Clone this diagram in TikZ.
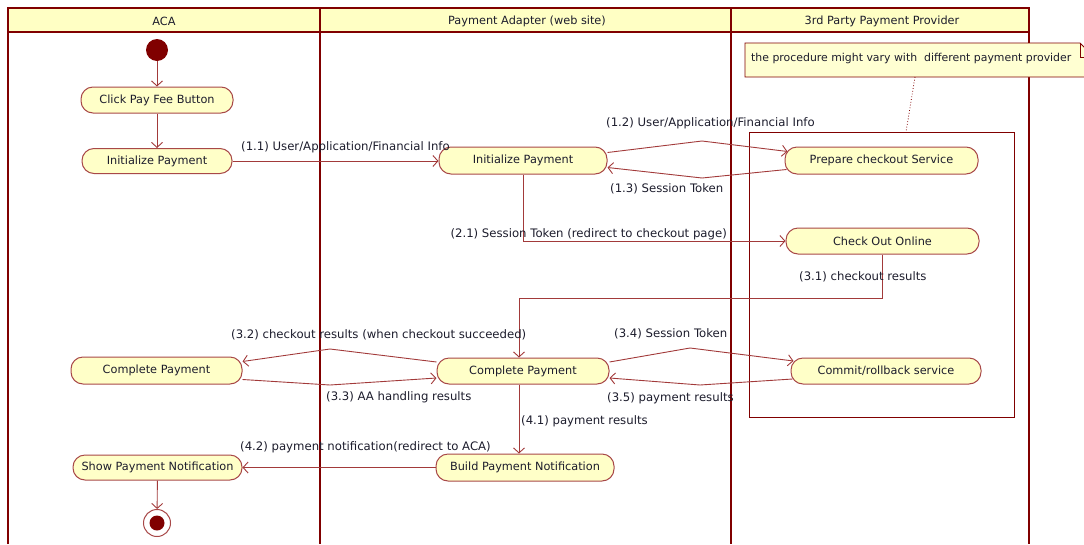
\documentclass[tikz,border=0pt]{standalone}
\usepackage{fontspec}
\setmainfont{DejaVu Sans}
\usetikzlibrary{arrows.meta}
\definecolor{lanec}{HTML}{800000}
\definecolor{hdrfill}{HTML}{FFFFC4}
\definecolor{actfill}{HTML}{FFFFC8}
\definecolor{actdraw}{HTML}{A84848}
\definecolor{edgec}{HTML}{A23A3A}
\definecolor{txt}{HTML}{1C1C2C}
\definecolor{notefill}{HTML}{FFFFD2}
\begin{document}
\begin{tikzpicture}[x=1pt,y=-1pt,
  font=\fontsize{11.3}{13}\selectfont,
  act/.style={draw=actdraw, fill=actfill, rounded corners=12pt, minimum height=26pt, inner sep=0pt, text=txt, line width=1pt},
  flow/.style={draw=edgec, line width=0.9pt, -{Straight Barb[length=5pt,width=11pt]}},
  lbl/.style={text=txt, inner sep=0pt, font=\fontsize{11.7}{13}\selectfont},
  lanel/.style={draw=lanec, line width=2.6pt},
  hdr/.style={text=txt, inner sep=0pt}]
\useasboundingbox (0,0) rectangle (1084,544);
% swimlanes
\fill[hdrfill] (8,8) rectangle (1029,32);
\draw[lanel] (8,32) -- (1029,32);
\draw[lanel] (8,544) -- (8,8) -- (1029,8) -- (1029,544);
\draw[lanel] (320,8) -- (320,544);
\draw[lanel] (731,8) -- (731,544);
\node[hdr] (h1) at (164,21) {ACA};
\node[hdr] (h2) at (527,21) {Payment Adapter (web site)};
\node[hdr] (h3) at (882,21) {3rd Party Payment Provider};
% partition and note
\draw[lanec, line width=0.9pt] (749,132) rectangle (1014,417);
\filldraw[fill=notefill, draw=lanec, line width=0.9pt] (745,43) -- (1080,43) -- (1094,57) -- (1094,77) -- (745,77) -- cycle;
\draw[lanec, line width=0.8pt] (1080,43) -- (1080,57) -- (1094,57);
\node[lbl, anchor=west, font=\fontsize{10.9}{13}\selectfont] (note) at (751,58) {the procedure might vary with\ \ different payment provider};
\coordinate (na) at (915,77);
\coordinate (pa) at (906,132);
\draw[lanec, dotted, line width=0.8pt] (na) -- (pa);
% nodes
\node[circle, fill=lanec, minimum size=22pt, inner sep=0pt] (start) at (157,50) {};
\node[act, minimum width=152pt] (click) at (157,100) {Click Pay Fee Button};
\node[act, minimum width=150pt, minimum height=25pt] (initA) at (157,161) {Initialize Payment};
\node[act, minimum width=168pt, minimum height=27pt] (initP) at (523,160.5) {Initialize Payment};
\node[act, minimum width=193pt, minimum height=27pt] (prep) at (881.5,160.5) {Prepare checkout Service};
\node[act, minimum width=193pt] (chk) at (882.5,241) {Check Out Online};
\node[act, minimum width=190pt] (commit) at (886,371) {Commit/rollback service};
\node[act, minimum width=172pt] (compP) at (523,371) {Complete Payment};
\node[act, minimum width=171pt, minimum height=27pt] (compA) at (156.5,370.5) {Complete Payment};
\node[act, minimum width=169pt, minimum height=25pt] (show) at (157.5,467.5) {Show Payment Notification};
\node[act, minimum width=178pt, minimum height=27pt] (build) at (525,467.5) {Build Payment Notification};
\node[circle, draw=actdraw, fill=white, line width=1pt, minimum size=27pt, inner sep=0pt] (end) at (157,523) {};
\node[circle, fill=lanec, minimum size=15pt, inner sep=0pt] (endin) at (157,523) {};
% bend points
\coordinate (b12) at (702,141);
\coordinate (b13) at (702,178);
\coordinate (c31) at (519,298);
\coordinate (b32) at (330,349);
\coordinate (b33) at (330,385);
\coordinate (b34) at (690,348);
\coordinate (b35) at (700,385);
% connectors
\draw[flow] (start) -- (click);
\draw[flow] (click) -- (initA);
\draw[flow] (initA.east) -- (initP.west |- initA.east);
\draw[flow] ([yshift=8pt]initP.east) -- (b12) -- ([shift={(3pt,9pt)}]prep.west);
\draw[flow] ([shift={(2pt,-9pt)}]prep.west) -- (b13) -- ([yshift=-7pt]initP.east);
\draw[flow] (initP.south) |- (chk.west);
\draw[flow] (chk.south) |- (c31) -- (c31 |- compP.north);
\draw[flow] ([yshift=9pt]compP.west) -- (b32) -- ([yshift=9pt]compA.east);
\draw[flow] ([yshift=-9pt]compA.east) -- (b33) -- ([yshift=-7pt]compP.west);
\draw[flow] ([yshift=9pt]compP.east) -- (b34) -- ([shift={(3pt,10pt)}]commit.west);
\draw[flow] ([shift={(2pt,-8pt)}]commit.west) -- (b35) -- ([yshift=-7pt]compP.east);
\draw[flow] (c31 |- compP.south) -- (c31 |- build.north);
\draw[flow] (build.west) -- (show.east);
\draw[flow] (show) -- (end);
% labels
\node[lbl, anchor=west] (l11) at (241,147) {(1.1) User/Application/Financial Info};
\node[lbl, anchor=west] (l12) at (606,123) {(1.2) User/Application/Financial Info};
\node[lbl, anchor=west] (l13) at (610,189) {(1.3) Session Token};
\node[lbl, anchor=east] (l21) at (727,234) {(2.1) Session Token (redirect to checkout page)};
\node[lbl, anchor=west] (l31) at (799,277) {(3.1) checkout results};
\node[lbl, anchor=west] (l32) at (231,335) {(3.2) checkout results (when checkout succeeded)};
\node[lbl, anchor=west] (l33) at (326,397) {(3.3) AA handling results};
\node[lbl, anchor=west] (l34) at (614,334) {(3.4) Session Token};
\node[lbl, anchor=west] (l35) at (607,398) {(3.5) payment results};
\node[lbl, anchor=west] (l41) at (521,421) {(4.1) payment results};
\node[lbl, anchor=west] (l42) at (240,447) {(4.2) payment notification(redirect to ACA)};
\end{tikzpicture}
\end{document}
